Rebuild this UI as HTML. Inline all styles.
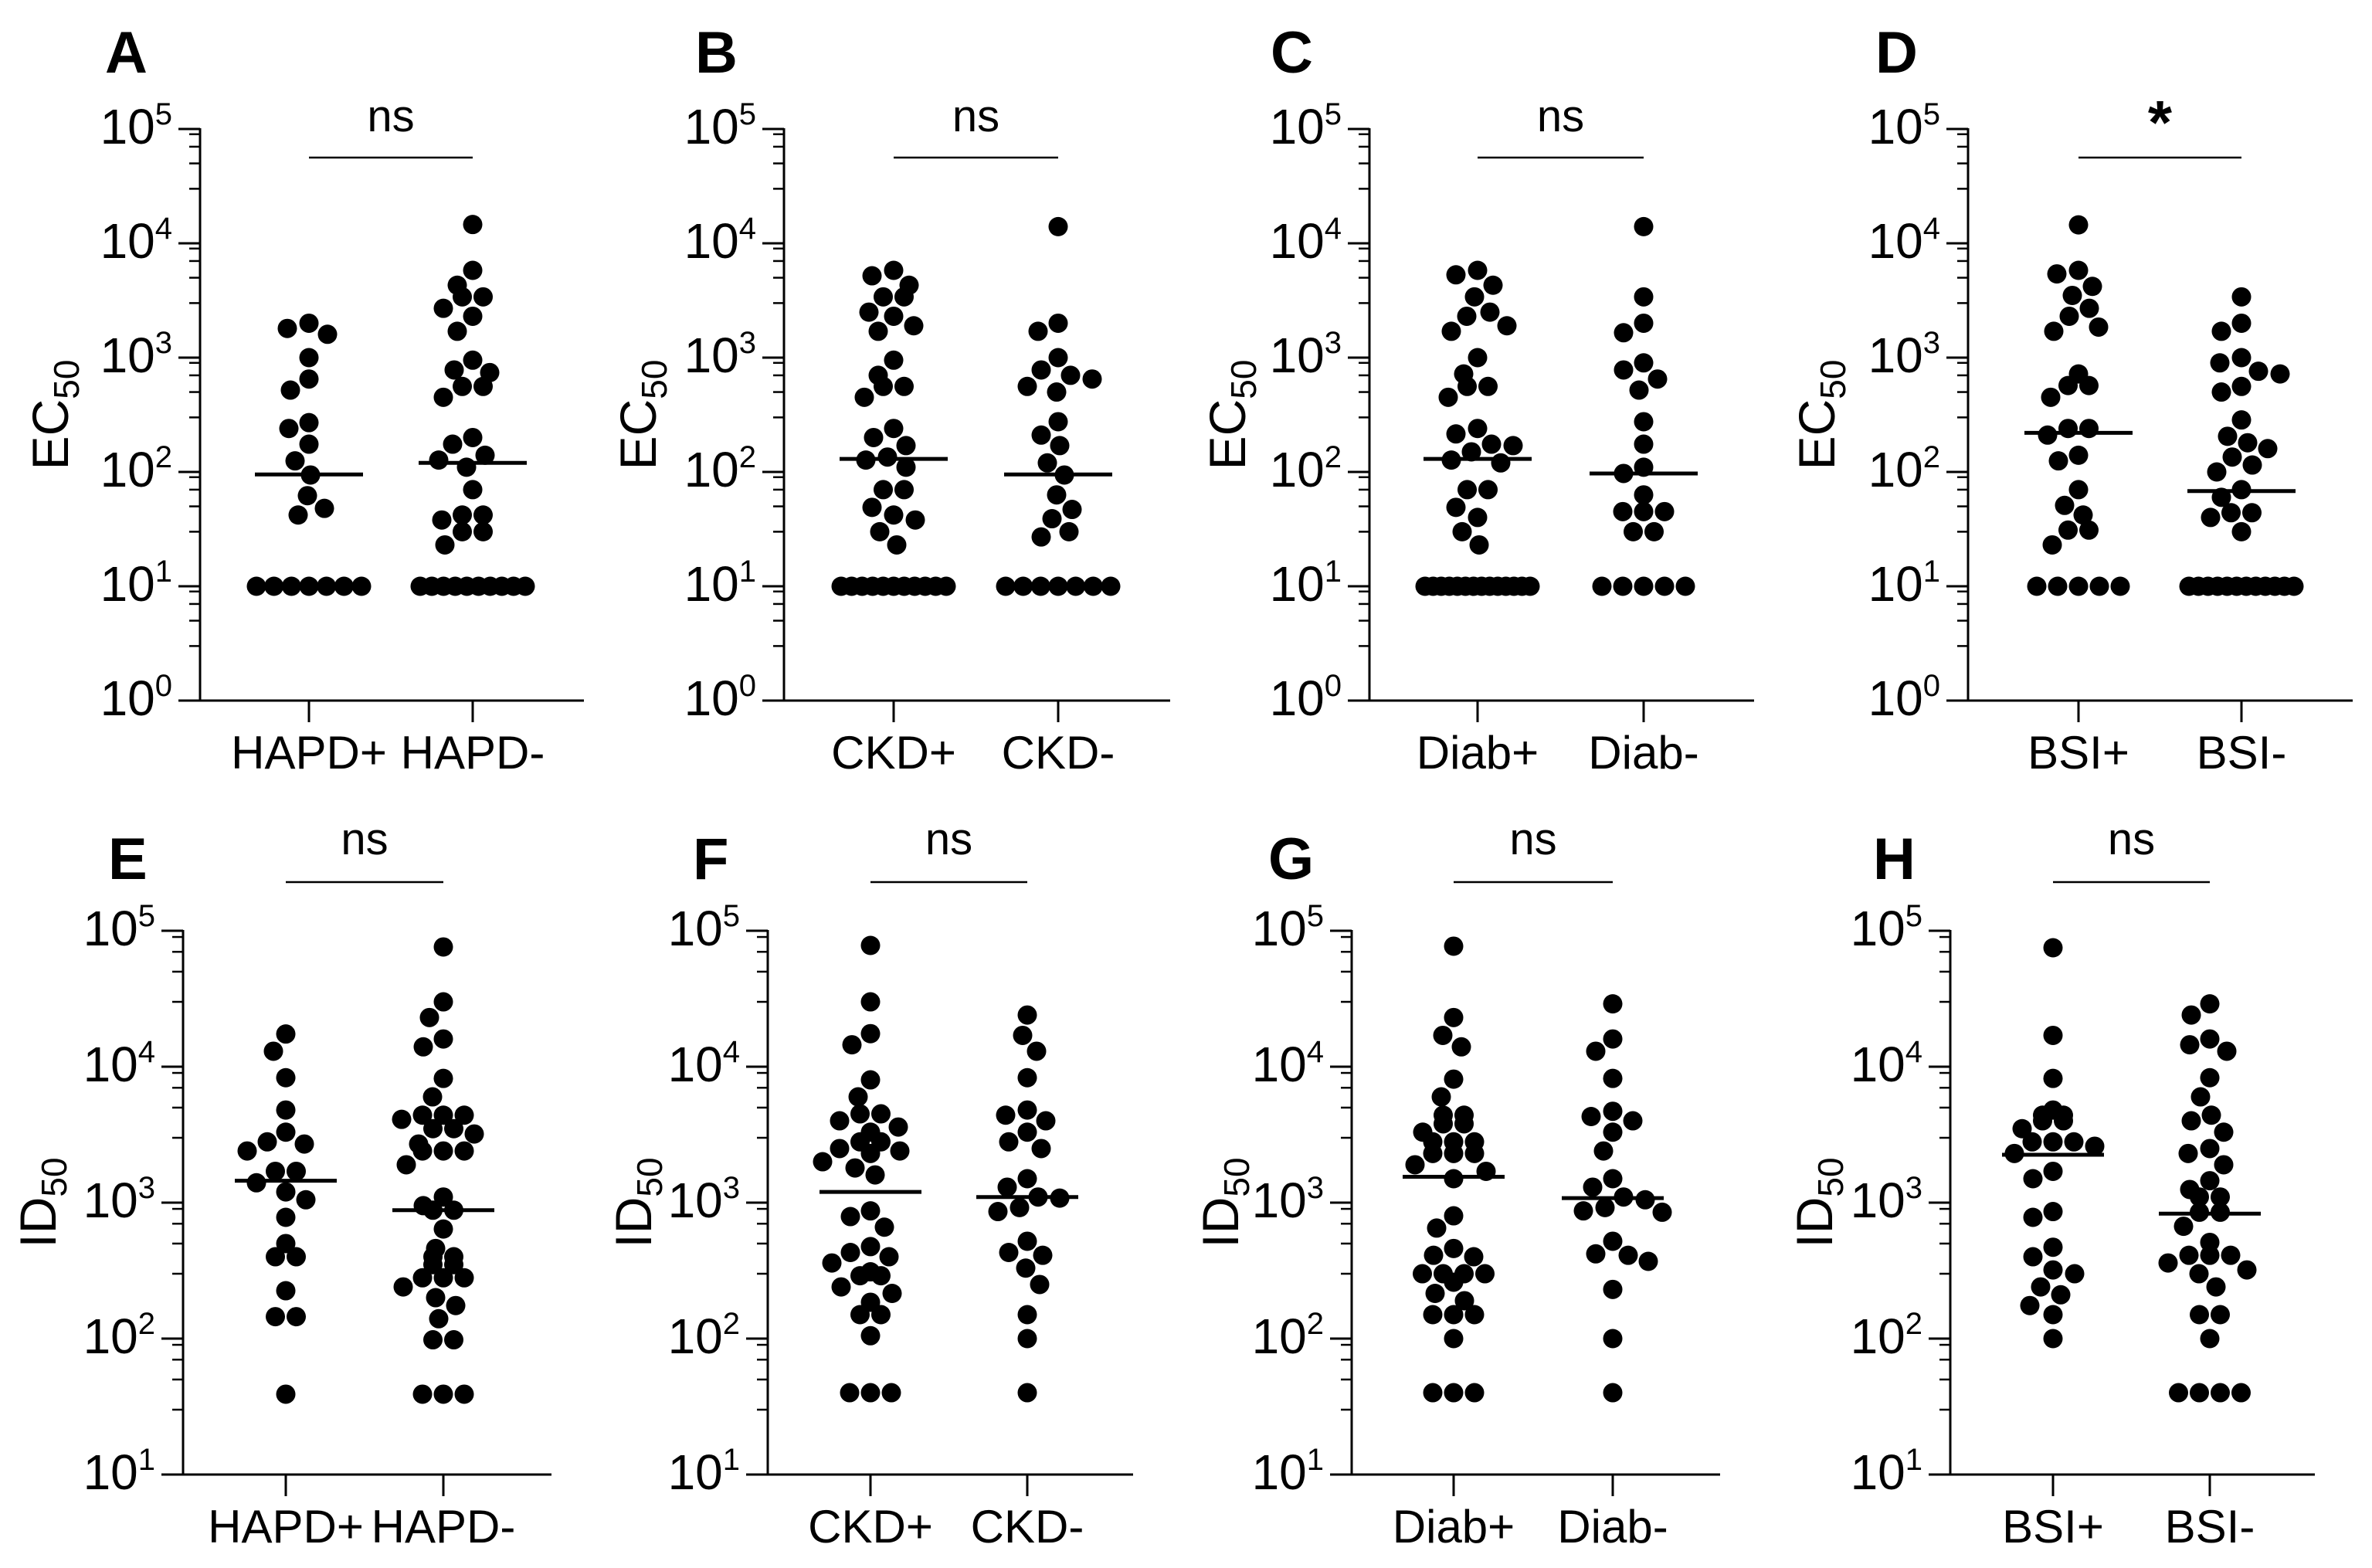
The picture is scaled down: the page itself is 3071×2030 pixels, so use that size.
<!DOCTYPE html>
<html><head><meta charset="utf-8"><style>
html,body{margin:0;padding:0;background:#fff;}
svg{display:block;font-family:"Liberation Sans",Arial,sans-serif;}
</style></head><body>
<svg id="fig" width="3071" height="2030" viewBox="0 0 3071 2030" xmlns="http://www.w3.org/2000/svg"></svg>
<script>
// ---- data ----
const catsA = ["HAPD+","HAPD-"];
const valsA1 = [2000,1800,1600,1000,650,520,270,240,175,125,94,62,48,42,10,10,10,10,10,10,10];
const valsA2 = [14600,5800,4300,3400,3400,2700,2300,1700,950,780,740,560,560,450,200,175,140,127,110,70,42,42,38,30,30,23,10,10,10,10,10,10,10,10,10,10];
const medA = [95,120];
const catsB = ["CKD+","CKD-"];
const valsB1 = [5800,5200,4300,3400,3400,2500,2300,1900,1700,950,700,560,560,450,240,200,170,135,127,110,70,70,49,42,38,30,23,10,10,10,10,10,10,10,10,10,10,10];
const valsB2 = [14000,2000,1700,1000,780,700,650,560,500,275,210,170,120,94,63,47,39,30,27,10,10,10,10,10,10,10];
const medB = [130,95];
const catsC = ["Diab+","Diab-"];
const valsC1 = [5800,5300,4300,3400,2500,2300,1900,1700,1000,720,560,560,450,240,215,175,170,150,127,120,70,70,49,40,30,23,10,10,10,10,10,10,10,10,10,10,10,10,10,10];
const valsC2 = [14000,3400,2000,1650,900,780,650,520,275,175,110,97,63,45,45,45,30,30,10,10,10,10,10];
const medC = [130,97];
const catsD = ["BSI+","BSI-"];
const valsD1 = [14500,5800,5400,4200,3500,2700,2300,1850,1700,720,570,570,450,240,240,210,140,125,70,51,42,31,31,23,10,10,10,10,10];
const valsD2 = [3400,2000,1700,1000,900,760,720,560,500,285,205,180,160,135,115,100,70,60,44,44,40,30,10,10,10,10,10,10,10,10,10,10,10,10];
const medD = [220,68];
const valsE1 = [17400,13000,8300,4800,3300,2800,2700,2400,1700,1700,1400,1200,1050,780,500,400,400,225,145,145,39];
const valsE2 = [76000,30000,23000,16000,14000,8200,6000,4400,4400,4400,4100,3500,3500,3200,2700,2400,2400,2400,1900,1100,950,880,880,640,460,400,400,350,350,280,280,280,240,200,175,140,98,98,39,39,39];
const medE = [1450,880];
const valsF1 = [78000,30000,17500,14500,8000,6000,4500,4500,4000,3600,3300,2800,2800,2500,2400,2300,2000,1800,1600,870,790,660,475,430,400,360,310,290,290,240,215,185,150,150,105,40,40,40];
const valsF2 = [24000,17000,13000,8300,4800,4400,4000,3300,2800,2500,1500,1300,1100,1080,920,860,520,430,410,330,250,150,100,40];
const medF = [1200,1100];
const valsG1 = [77000,23000,17000,14000,8100,6000,4400,4400,3800,3800,3300,2800,2800,2800,2300,2300,2300,1900,1700,1500,800,650,460,410,400,300,300,300,300,260,215,190,150,150,150,100,40,40,40];
const valsG2 = [29000,16000,13000,8200,4700,4300,4000,3300,2400,1500,1300,1100,1050,920,870,850,520,420,410,370,230,100,40];
const medG = [1550,1080];
const valsH1 = [75000,17000,8200,4800,4400,4400,4000,4000,3500,2800,2800,2800,2600,2300,1700,1500,860,780,470,400,320,300,240,210,175,150,100];
const valsH2 = [29000,24000,16000,14500,13000,8300,6000,4400,4000,3300,2500,2300,1900,1450,1250,1100,1100,850,850,670,510,410,410,410,360,320,300,240,150,150,100,40,40,40,40];
const medH = [2250,830];
const sigLabels = ["ns","ns","ns","*","ns","ns","ns","ns"];
const decadesTop = [0,1,2,3,4,5];
const decadesBot = [1,2,3,4,5];
const minorMult = [3,5,7,9];

const NS = "http://www.w3.org/2000/svg";
const svg = document.getElementById("fig");
function mk(tag, attrs, parent){
  const e = document.createElementNS(NS, tag);
  for (const k in attrs) e.setAttribute(k, attrs[k]);
  (parent||svg).appendChild(e);
  return e;
}

function swarm(vals, yf, maxHalf, minD){
  const sorted = vals.slice().sort((a,b)=>b-a);
  const placed = [];
  let i = 0;
  while (i < sorted.length){
    let j = i; while (j < sorted.length && sorted[j] === sorted[i]) j++;
    const n = j - i, y = yf(sorted[i]);
    if (n > 1){
      const sp = Math.min(minD, 2*maxHalf/(n-1));
      for (let k=0;k<n;k++) placed.push({v:sorted[i], x:(k-(n-1)/2)*sp, y:y});
    } else {
      let best = null;
      for (let s=0; s<=maxHalf; s+=2){
        for (const off of (s===0?[0]:[-s,s])){
          let ok = true;
          for (const p of placed){ const dx=p.x-off, dy=p.y-y; if (dx*dx+dy*dy < minD*minD){ ok=false; break; } }
          if (ok){ best = off; break; }
        }
        if (best !== null) break;
      }
      if (best === null) best = 0;
      placed.push({v:sorted[i], x:best, y:y});
    }
    i = j;
  }
  return placed;
}

function panel(cfg, cats, g1, g2, med, sig){
  const g = mk("g", {});
  
  
  const dMin = cfg.decades[0], dMax = cfg.decades[cfg.decades.length-1];
  const yf = v => cfg.yTop + (dMax - Math.log10(v)) * (cfg.yBot - cfg.yTop) / (dMax - dMin);
  const catX = [cfg.c1, cfg.c2];
  const L = mk("text", {x:cfg.lx, y:cfg.ly, "font-size":76, "font-weight":"bold", fill:"#000"}, g);
  L.textContent = cfg.letter;
  
  
  const ya = mk("line", {x1:cfg.ax, y1:cfg.yTop-1, x2:cfg.ax, y2:cfg.yBot+1, stroke:"#000", "stroke-width":3}, g);
  
  
  const xa = mk("line", {x1:cfg.ax-28, y1:cfg.yBot, x2:cfg.xEnd, y2:cfg.yBot, stroke:"#000", "stroke-width":3}, g);
  
  
  for (const d of cfg.decades){
    const y = yf(Math.pow(10,d));
    const t = mk("line", {x1:cfg.ax-28, y1:y, x2:cfg.ax, y2:y, stroke:"#000", "stroke-width":3}, g);
    
    
    const lab = mk("text", {x:cfg.ax-36, y:y+19, "font-size":64, "text-anchor":"end", fill:"#000"}, g);
    
    
    const t1 = mk("tspan", {}, lab); t1.textContent = "10";
    const t2 = mk("tspan", {"font-size":40, dy:-25}, lab); t2.textContent = String(d);
    if (d < dMax){
      for (const m of minorMult){
        const ym = yf(m*Math.pow(10,d));
        const mt = mk("line", {x1:cfg.ax-14, y1:ym, x2:cfg.ax, y2:ym, stroke:"#000", "stroke-width":2.5}, g);
        
        
      }
    }
  }
  const yc = (cfg.yTop+cfg.yBot)/2;
  const yt = mk("text", {x:0, y:0, "font-size":66, "text-anchor":"middle", fill:"#000", transform:"translate("+cfg.tx+","+yc+") rotate(-90)"}, g);
  
  
  const a1 = mk("tspan", {}, yt); a1.textContent = cfg.ylab;
  const a2 = mk("tspan", {"font-size":46, dy:14}, yt); a2.textContent = "50";
  for (let k=0;k<2;k++){
    const ct = mk("line", {x1:catX[k], y1:cfg.yBot, x2:catX[k], y2:cfg.yBot+28, stroke:"#000", "stroke-width":3}, g);
    
    
    const cl = mk("text", {x:catX[k], y:cfg.catY, "font-size":60, "text-anchor":"middle", fill:"#000"}, g);
    cl.textContent = cats[k];
    
    
  }
  const sl = mk("line", {x1:catX[0], y1:cfg.sigY, x2:catX[1], y2:cfg.sigY, stroke:"#000", "stroke-width":2.5}, g);
  
  
  const st = mk("text", {x:(catX[0]+catX[1])/2, y: sig==="*" ? cfg.sigY-18 : cfg.nsY, "font-size": sig==="*" ? 80 : 58, "font-weight": sig==="*" ? "bold":"normal", "text-anchor":"middle", fill:"#000"}, g);
  st.textContent = sig;
  
  
  const groups = [g1, g2];
  for (let k=0;k<2;k++){
    const pts = swarm(groups[k], yf, cfg.half, 27);
    for (const p of pts){
      const c = mk("circle", {cx:catX[k]+p.x, cy:p.y, r:12.5, fill:"#000"}, g);
      
      
    }
    const my = yf(med[k]);
    const ml = mk("line", {x1:catX[k]-cfg.half-2, y1:my, x2:catX[k]+cfg.half+2, y2:my, stroke:"#000", "stroke-width":5}, g);
    
    
  }
}

const T = {decades:decadesTop, yTop:167, yBot:907, catY:995, sigY:204, nsY:170, ly:94, half:68, ylab:"EC"};
const B = {decades:decadesBot, yTop:1205, yBot:1909, catY:1997, sigY:1142, nsY:1106, ly:1138, half:64, ylab:"ID"};
const cfgs = [
  Object.assign({}, T, {letter:"A", lx:136, ax:259, c1:400, c2:612, xEnd:756, tx:88}),
  Object.assign({}, T, {letter:"B", lx:900, ax:1015, c1:1157, c2:1370, xEnd:1515, tx:849}),
  Object.assign({}, T, {letter:"C", lx:1645, ax:1773, c1:1913, c2:2128, xEnd:2271, tx:1612}),
  Object.assign({}, T, {letter:"D", lx:2428, ax:2548, c1:2691, c2:2902, xEnd:3046, tx:2375}),
  Object.assign({}, B, {letter:"E", lx:140, ax:237, c1:370, c2:574, xEnd:714, tx:72}),
  Object.assign({}, B, {letter:"F", lx:897, ax:994, c1:1127, c2:1330, xEnd:1467, tx:843}),
  Object.assign({}, B, {letter:"G", lx:1642, ax:1750, c1:1882, c2:2088, xEnd:2227, tx:1603}),
  Object.assign({}, B, {letter:"H", lx:2425, ax:2525, c1:2658, c2:2861, xEnd:2997, tx:2372})
];
panel(cfgs[0], catsA, valsA1, valsA2, medA, sigLabels[0]);
panel(cfgs[1], catsB, valsB1, valsB2, medB, sigLabels[1]);
panel(cfgs[2], catsC, valsC1, valsC2, medC, sigLabels[2]);
panel(cfgs[3], catsD, valsD1, valsD2, medD, sigLabels[3]);
panel(cfgs[4], catsA, valsE1, valsE2, medE, sigLabels[4]);
panel(cfgs[5], catsB, valsF1, valsF2, medF, sigLabels[5]);
panel(cfgs[6], catsC, valsG1, valsG2, medG, sigLabels[6]);
panel(cfgs[7], catsD, valsH1, valsH2, medH, sigLabels[7]);
</script>
</body></html>
